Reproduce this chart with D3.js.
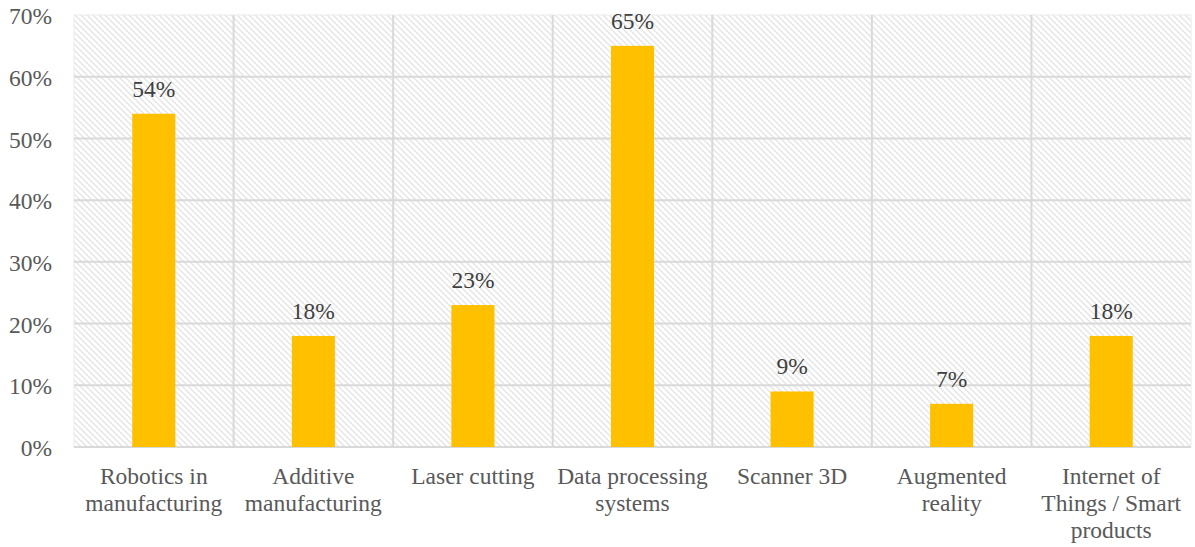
<!DOCTYPE html>
<html>
<head>
<meta charset="utf-8">
<script src="https://cdn.jsdelivr.net/npm/d3@7"></script>
<style>
  html, body { margin: 0; padding: 0; background: #fff; }
  svg { display: block; }
  svg text { font-family: "Liberation Serif", "Tinos", "DejaVu Serif", serif !important; }
</style>
</head>
<body>
<svg id="chart" width="1195" height="547"></svg>
<script>
// Share of companies using each technology
const categories = [
  ["Robotics in", "manufacturing"],
  ["Additive", "manufacturing"],
  ["Laser cutting"],
  ["Data processing", "systems"],
  ["Scanner 3D"],
  ["Augmented", "reality"],
  ["Internet of", "Things / Smart", "products"]
];
const values = [54, 18, 23, 65, 9, 7, 18];
const yTicks = [0, 10, 20, 30, 40, 50, 60, 70];

const W = 1195, H = 547;
const margin = { top: 15, right: 4, bottom: 100, left: 74 };
const svg = d3.select("#chart");
const serif = "'Liberation Serif', Tinos, 'DejaVu Serif', serif";
const fontSize = 23.5;

const keys = categories.map((c, i) => i);
const x = d3.scaleBand().domain(keys).range([margin.left, W - margin.right]).paddingInner(0).paddingOuter(0);
const y = d3.scaleLinear().domain([0, 70]).range([H - margin.bottom, margin.top]);
const barW = x.bandwidth() * 0.27;

// diagonal hatch fill of the plot area
const defs = svg.append("defs");
const pat = defs.append("pattern")
  .attr("id", "hatch").attr("patternUnits", "userSpaceOnUse")
  .attr("width", 6).attr("height", 6);
pat.append("rect").attr("width", 6).attr("height", 6).attr("fill", "#ffffff");
pat.append("path").attr("d", "M-1,-1 L7,7 M-1,5 L1,7 M5,-1 L7,1")
  .attr("stroke", "#e4e4e4").attr("stroke-width", 1.3);

const x0 = margin.left, x1 = W - margin.right, yTop = y(70), yBot = y(0);
svg.append("rect")
  .attr("x", x0).attr("y", yTop).attr("width", x1 - x0).attr("height", yBot - yTop)
  .attr("fill", "url(#hatch)").attr("stroke", "#ececec").attr("stroke-width", 1);

// horizontal gridlines
svg.append("g").selectAll("line").data(yTicks.slice(1, -1)).join("line")
  .attr("x1", x0).attr("x2", x1)
  .attr("y1", d => y(d)).attr("y2", d => y(d))
  .attr("stroke", "#d9d9d9").attr("stroke-width", 2);

// vertical separators between categories
svg.append("g").selectAll("line").data(keys.slice(1)).join("line")
  .attr("x1", d => x(d)).attr("x2", d => x(d))
  .attr("y1", yTop).attr("y2", yBot)
  .attr("stroke", "#d9d9d9").attr("stroke-width", 2);

// bottom axis line
svg.append("line").attr("x1", x0).attr("x2", x1).attr("y1", yBot).attr("y2", yBot)
  .attr("stroke", "#d9d9d9").attr("stroke-width", 2);

// bars
svg.append("g").selectAll("rect").data(values).join("rect")
  .attr("x", (d, i) => x(i) + x.bandwidth() / 2 - barW / 2)
  .attr("width", barW)
  .attr("y", d => y(d))
  .attr("height", d => yBot - y(d))
  .attr("fill", "#ffc000");

// value labels
svg.append("g").selectAll("text").data(values).join("text")
  .attr("x", (d, i) => x(i) + x.bandwidth() / 2)
  .attr("y", d => y(d) - 17)
  .attr("text-anchor", "middle")
  .attr("font-family", serif)
  .attr("font-size", fontSize)
  .attr("fill", "#404040")
  .text(d => d + "%");

// y axis labels
const yAxis = d3.axisLeft(y).tickValues(yTicks).tickFormat(d => d + "%").tickSize(0).tickPadding(0);
const ya = svg.append("g").attr("transform", `translate(${52},0)`).call(yAxis)
  .attr("font-family", serif);
ya.select(".domain").remove();
ya.selectAll("text")
  .attr("font-size", fontSize).attr("fill", "#595959").attr("dy", "0.37em");

// category labels
const cat = svg.append("g").attr("font-family", serif).selectAll("text").data(categories).join("text")
  .attr("x", (d, i) => x(i) + x.bandwidth() / 2)
  .attr("y", yBot + 37)
  .attr("text-anchor", "middle")
  .attr("font-size", fontSize)
  .attr("fill", "#595959");
cat.selectAll("tspan").data(d => d).join("tspan")
  .attr("x", function () { return d3.select(this.parentNode).attr("x"); })
  .attr("dy", (d, i) => i === 0 ? 0 : 26.8)
  .text(d => d);
</script>
</body>
</html>
